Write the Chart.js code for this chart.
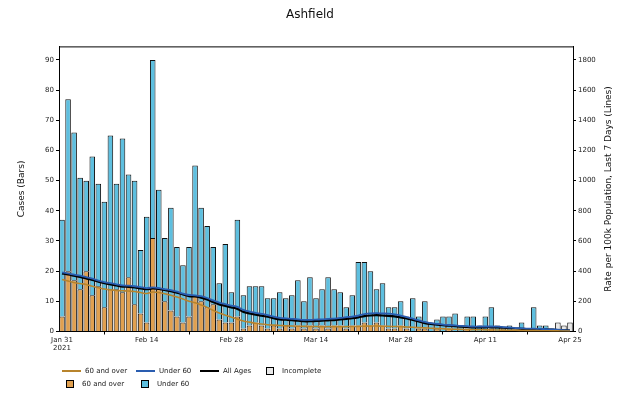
<!DOCTYPE html>
<html>
<head>
<meta charset="utf-8">
<script src="https://cdn.jsdelivr.net/npm/chart.js@4.4.0/dist/chart.umd.min.js"></script>
<style>
  html, body { margin: 0; padding: 0; background: #fff; }
  #wrap { position: relative; width: 620px; height: 393px; font-family: "DejaVu Sans", sans-serif; }
  #legend { position: absolute; left: 0; top: 0; width: 620px; height: 393px; pointer-events: none; font-size: 7px; color: #222; }
  .item { position: absolute; display: flex; align-items: center; white-space: nowrap; }
  .ln { display: inline-block; width: 19px; height: 0; margin-right: 4px; }
  .bx { display: inline-block; width: 6px; height: 6px; border: 1px solid #000; margin-right: 8px; }
</style>
</head>
<body>
<div id="wrap">
  <canvas id="chart" width="620" height="393"></canvas>
  <div id="legend">
    <div class="item" style="left:62px; top:367px;"><span class="ln" style="border-top:2px solid #b8842c"></span>60 and over</div>
    <div class="item" style="left:136px; top:367px;"><span class="ln" style="border-top:2px solid #2a5db0"></span>Under 60</div>
    <div class="item" style="left:200px; top:367px;"><span class="ln" style="border-top:2px solid #000"></span>All Ages</div>
    <div class="item" style="left:266px; top:367px;"><span class="bx" style="background:#e8e8e8"></span>Incomplete</div>
    <div class="item" style="left:66px; top:380px;"><span class="bx" style="background:#e0a050"></span>60 and over</div>
    <div class="item" style="left:141px; top:380px;"><span class="bx" style="background:#5ebfdf"></span>Under 60</div>
  </div>
</div>
<script>
// daily cases, 60 and over (bars, left axis)
const over60Cases = [5,20,17,14,20,12,15,8,14,14, 13,18,9,6,3,31,14,10,7,5, 3,5,12,10,8,9,4,3,3,5,
  1,2,3,2,1,2,1,2,1,2, 1,2,1,2,1,2,2,1,2,2, 3,2,3,2,1,1,2,1,0,1, 1,0,1,0,1,0,0,1,0,0,
  0,1,0,0,0,0,0,0,0,0, 0,0,0,0,0];
// daily cases, under 60
const under60Cases = [32,57,49,37,30,46,34,35,51,35, 51,34,41,21,35,59,33,21,34,23, 19,23,43,31,27,19,12,26,10,32,
  11,13,12,13,10,9,12,9,11,15, 9,16,10,12,17,12,11,7,10,21, 20,18,11,14,7,7,8,4,11,4,
  9,3,3,5,4,6,2,4,5,2, 5,7,2,1,2,0,3,1,8,2, 2,1,0,0,0];
// incomplete days (total only)
const incompleteCases = [null,null,null,null,null,null,null,null,null,null, null,null,null,null,null,null,null,null,null,null,
  null,null,null,null,null,null,null,null,null,null, null,null,null,null,null,null,null,null,null,null,
  null,null,null,null,null,null,null,null,null,null, null,null,null,null,null,null,null,null,null,null,
  null,null,null,null,null,null,null,null,null,null, null,null,null,null,null,null,null,null,null,null,
  null,null,3,2,3];

// 7-day rates per 100k (lines, right axis)
const over60Rate = [345,335,325,318,312,300,290,282,276,272, 270,268,265,258,252,262,258,250,240,228,
  215,200,190,175,160,140,122,108,95,82, 70,62,55,50,45,42,40,38,36,35,
  34,33,33,32,32,32,32,32,33,34, 35,36,36,35,34,33,32,30,28,26,
  24,22,20,18,16,15,14,13,12,12, 11,10,10,9,8,8,7,6,6,5, 5,4,4,3,3];
const under60Rate = [392,385,377,370,360,350,338,328,320,313, 306,304,300,294,288,292,288,281,274,264,
  251,242,240,234,222,206,192,182,172,163, 143,132,124,117,109,98,90,87,84,81,
  77,77,79,81,84,86,90,95,99,106, 115,120,122,120,118,113,106,96,85,74,
  63,55,50,46,43,40,37,35,33,33, 33,33,32,29,26,23,21,19,19,17, 16,14,12,9,7];
const allAgesRate = [385,378,370,362,352,342,330,320,312,305, 298,296,292,286,280,285,282,275,268,258,
  245,235,232,225,212,195,180,170,160,150, 130,120,112,105,98,88,80,78,75,72,
  68,68,70,72,74,76,80,84,88,94, 102,106,108,106,104,100,94,86,76,66,
  56,50,46,42,38,36,32,30,28,28, 28,28,27,25,22,20,18,16,16,15, 14,12,10,8,6];

// x tick labels every 14 days
const tickLabels = [['Jan 31', '2021'], 'Feb 14', 'Feb 28', 'Mar 14', 'Mar 28', 'Apr 11', 'Apr 25'];

const days = [];
for (let i = 0; i < over60Cases.length; i++) days.push(i);

const fontFam = '"DejaVu Sans", sans-serif';

// right axis label reads bottom-to-top like the left one, plus top spine
const extras = {
  id: 'extras',
  afterDraw(chart) {
    const ctx = chart.ctx;
    const area = chart.chartArea;
    ctx.save();
    ctx.strokeStyle = '#000';
    ctx.lineWidth = 1;
    ctx.beginPath();
    ctx.moveTo(area.left, area.top + 0.5);
    ctx.lineTo(area.right, area.top + 0.5);
    ctx.stroke();
    ctx.translate(609, (area.top + area.bottom) / 2);
    ctx.rotate(-Math.PI / 2);
    ctx.font = '9px ' + fontFam;
    ctx.fillStyle = '#111';
    ctx.textAlign = 'center';
    ctx.textBaseline = 'middle';
    ctx.fillText('Rate per 100k Population, Last 7 Days (Lines)', 0, 0);
    ctx.restore();
  }
};

const ctx = document.getElementById('chart').getContext('2d');
new Chart(ctx, {
  data: {
    labels: days,
    datasets: [
      { type: 'line', label: '60 and over', data: over60Rate, yAxisID: 'y2', borderColor: '#b8842c', borderWidth: 1.6, pointRadius: 0, tension: 0.3, order: 0 },
      { type: 'line', label: 'Under 60', data: under60Rate, yAxisID: 'y2', borderColor: '#2a5db0', borderWidth: 1.8, pointRadius: 0, tension: 0.3, order: 0 },
      { type: 'line', label: 'All Ages', data: allAgesRate, yAxisID: 'y2', borderColor: '#000', borderWidth: 2.2, pointRadius: 0, tension: 0.3, order: 0 },
      { type: 'bar', label: '60 and over', data: over60Cases, yAxisID: 'y', stack: 'c', backgroundColor: '#e0a050', borderColor: '#111', borderWidth: 1, categoryPercentage: 1, barPercentage: 0.92, order: 1 },
      { type: 'bar', label: 'Under 60', data: under60Cases, yAxisID: 'y', stack: 'c', backgroundColor: '#5ebfdf', borderColor: '#111', borderWidth: 1, categoryPercentage: 1, barPercentage: 0.92, order: 1 },
      { type: 'bar', label: 'Incomplete', data: incompleteCases, yAxisID: 'y', stack: 'c', backgroundColor: '#e8e8e8', borderColor: '#111', borderWidth: 1, categoryPercentage: 1, barPercentage: 0.92, order: 1 }
    ]
  },
  options: {
    responsive: false,
    animation: false,
    layout: { padding: { left: 0, right: 0, top: 0, bottom: 40 } },
    plugins: {
      legend: { display: false },
      tooltip: { enabled: false },
      title: {
        display: true,
        text: 'Ashfield',
        color: '#111',
        font: { family: fontFam, size: 12, weight: 'normal' },
        padding: { top: 8, bottom: 24 }
      }
    },
    scales: {
      x: {
        type: 'category',
        offset: true,
        grid: { display: true, drawOnChartArea: false, drawTicks: true, tickLength: 3, color: '#000' },
        border: { display: true, color: '#000', width: 1 },
        ticks: {
          autoSkip: false,
          maxRotation: 0,
          padding: 1,
          color: '#222',
          font: { family: fontFam, size: 7 },
          callback: function(v, i) { return i % 14 === 0 ? tickLabels[i / 14] : null; }
        },
        afterFit: function(s) { s.height = 21.5; }
      },
      y: {
        position: 'left',
        min: 0,
        max: 94.5,
        grid: { drawOnChartArea: false, drawTicks: true, tickLength: 3, color: '#000' },
        border: { display: true, color: '#000', width: 1 },
        ticks: { stepSize: 10, padding: 2, color: '#222', font: { family: fontFam, size: 7 }, callback: v => String(v) },
        afterBuildTicks: function(s) { s.ticks = s.ticks.filter(t => t.value % 10 === 0); },
        title: { display: true, text: 'Cases (Bars)', color: '#111', font: { family: fontFam, size: 9 }, padding: { top: 16, bottom: 0 } },
        afterFit: function(s) { s.width = 59; }
      },
      y2: {
        position: 'right',
        min: 0,
        max: 1890,
        grid: { drawOnChartArea: false, drawTicks: true, tickLength: 3, color: '#000' },
        border: { display: true, color: '#000', width: 1 },
        ticks: { stepSize: 200, padding: 2, color: '#222', font: { family: fontFam, size: 7 }, callback: v => String(v) },
        afterBuildTicks: function(s) { s.ticks = s.ticks.filter(t => t.value % 200 === 0); },
        afterFit: function(s) { s.width = 47; }
      }
    }
  },
  plugins: [extras]
});
</script>
</body>
</html>
